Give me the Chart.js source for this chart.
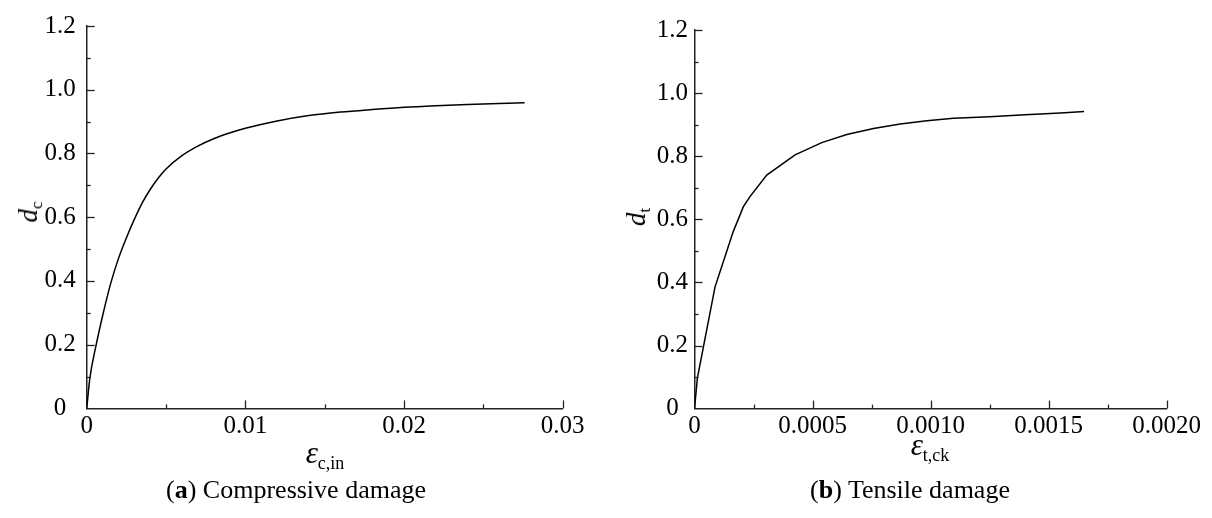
<!DOCTYPE html>
<html>
<head>
<meta charset="utf-8">
<script src="https://cdn.jsdelivr.net/npm/chart.js@4/dist/chart.umd.min.js"></script>
<style>
  html, body { margin:0; padding:0; background:#fff; }
  body { width:1212px; height:518px; position:relative; overflow:hidden; font-family:"Liberation Serif", serif; color:#000; }
  .cw { position:absolute; top:0; width:606px; height:518px; }
  .lbl { position:absolute; white-space:nowrap; line-height:1; transform:translate(-50%,-50%); }
  .ylab { transform:translate(-50%,-50%) rotate(-90deg); }
  .eps { font-style:italic; font-size:31px; }
  .sub { font-size:18px; vertical-align:-6px; }
  .dd { font-style:italic; font-size:27px; }
  .dsub { font-size:17px; vertical-align:-5px; }
  .cap { font-size:26px; }
</style>
</head>
<body>
<div class="cw" style="left:0"><canvas id="c1" width="606" height="518"></canvas></div>
<div class="cw" style="left:606px"><canvas id="c2" width="606" height="518"></canvas></div>

<div class="lbl ylab" style="left:30px; top:212px;"><span class="dd">d</span><span class="dsub">c</span></div>
<div class="lbl ylab" style="left:638px; top:217px;"><span class="dd">d</span><span class="dsub">t</span></div>
<div class="lbl" style="left:325px; top:454px;"><span class="eps">ε</span><span class="sub">c,in</span></div>
<div class="lbl" style="left:930px; top:446px;"><span class="eps">ε</span><span class="sub">t,ck</span></div>
<div class="lbl cap" style="left:296px; top:490px;">(<b>a</b>) Compressive damage</div>
<div class="lbl cap" style="left:910px; top:490px;">(<b>b</b>) Tensile damage</div>

<script>
// ---- data ----
const compStrain = [0, 0.0002, 0.0006, 0.001, 0.0015, 0.002, 0.0025, 0.003, 0.0035, 0.004, 0.0045, 0.005, 0.006, 0.007, 0.008, 0.009, 0.010, 0.012, 0.014, 0.016, 0.018, 0.020, 0.022, 0.024, 0.026, 0.0276];
const compDamage = [0, 0.095, 0.20, 0.29, 0.39, 0.47, 0.535, 0.593, 0.645, 0.687, 0.722, 0.751, 0.793, 0.823, 0.846, 0.864, 0.879, 0.902, 0.919, 0.930, 0.938, 0.945, 0.950, 0.954, 0.957, 0.959];

const tensStrain = [0, 0.000012, 0.000087, 0.000129, 0.000164, 0.000207, 0.000235, 0.000306, 0.000426, 0.000539, 0.000645, 0.000758, 0.000871, 0.000984, 0.001097, 0.00125, 0.0014, 0.00155, 0.00165];
const tensDamage = [0, 0.096, 0.386, 0.481, 0.561, 0.640, 0.672, 0.740, 0.804, 0.843, 0.869, 0.888, 0.902, 0.912, 0.920, 0.925, 0.931, 0.937, 0.942];

const yTickLabels = ["0", "0.2", "0.4", "0.6", "0.8", "1.0", "1.2"];
const xTickLabelsA = ["0", "0.01", "0.02", "0.03"];
const xTickLabelsB = ["0", "0.0005", "0.0010", "0.0015", "0.0020"];

// ---- inward ticks (major + minor) drawn through the scales ----
const inwardTicks = {
  id: 'inwardTicks',
  afterDraw(chart) {
    const ctx = chart.ctx;
    const xs = chart.scales.x, ys = chart.scales.y;
    ctx.save();
    ctx.strokeStyle = '#222';
    ctx.lineWidth = 1.3;
    const X0 = xs.left, Y0 = ys.bottom;
    const xt = xs.ticks.map(t => t.value);
    const yt = ys.ticks.map(t => t.value);
    function vx(v, len) { const p = Math.round(xs.getPixelForValue(v)) + 0.5; ctx.beginPath(); ctx.moveTo(p, Y0); ctx.lineTo(p, Y0 - len); ctx.stroke(); }
    function hy(v, len) { const p = Math.round(ys.getPixelForValue(v)) + 0.5; ctx.beginPath(); ctx.moveTo(X0, p); ctx.lineTo(X0 + len, p); ctx.stroke(); }
    xt.forEach((v, i) => { if (i > 0) vx(v, 8); if (i < xt.length - 1) vx((v + xt[i + 1]) / 2, 4); });
    yt.forEach((v, i) => { if (i > 0) hy(v, 8); if (i < yt.length - 1) hy((v + yt[i + 1]) / 2, 4); });
    ctx.restore();
  }
};

function makeChart(id, strain, damage, xMax, xStep, xLabels, geom, tension) {
  const pts = strain.map((s, i) => ({ x: s, y: damage[i] }));
  return new Chart(document.getElementById(id), {
    type: 'line',
    data: { datasets: [{ data: pts, borderColor: '#000', borderWidth: 1.5, pointRadius: 0, fill: false,
      tension: tension, cubicInterpolationMode: tension > 0 ? 'monotone' : 'default' }] },
    options: {
      responsive: false, animation: false, devicePixelRatio: 1,
      layout: { padding: { left: 0, top: geom.top, right: geom.right, bottom: 0 } },
      plugins: { legend: { display: false }, tooltip: { enabled: false } },
      scales: {
        x: {
          type: 'linear', min: 0, max: xMax,
          grid: { display: false, drawTicks: false },
          border: { display: true, color: '#222', width: 1.5 },
          ticks: { stepSize: xStep, autoSkip: false, maxRotation: 0, color: '#000', padding: 3,
            font: { family: 'Liberation Serif', size: 25 },
            callback: (v, i) => xLabels[i] },
          afterFit: s => { s.height = geom.xh; }
        },
        y: {
          type: 'linear', min: 0, max: 1.2,
          grid: { display: false, drawTicks: false },
          border: { display: true, color: '#222', width: 1.5 },
          ticks: { stepSize: 0.2, autoSkip: false, color: '#000', padding: geom.ypad, crossAlign: 'center',
            font: { family: 'Liberation Serif', size: 25 },
            callback: (v, i) => yTickLabels[i] },
          afterFit: s => { s.width = geom.yw; }
        }
      }
    },
    plugins: [inwardTicks]
  });
}

makeChart('c1', compStrain, compDamage, 0.03, 0.01, xTickLabelsA,
  { top: 24, right: 43.3, xh: 109.6, yw: 86.7, ypad: 11 }, 0.4);
makeChart('c2', tensStrain, tensDamage, 0.002, 0.0005, xTickLabelsB,
  { top: 30, right: 45.3, xh: 109.4, yw: 88.5, ypad: 6.5 }, 0);
</script>
</body>
</html>
